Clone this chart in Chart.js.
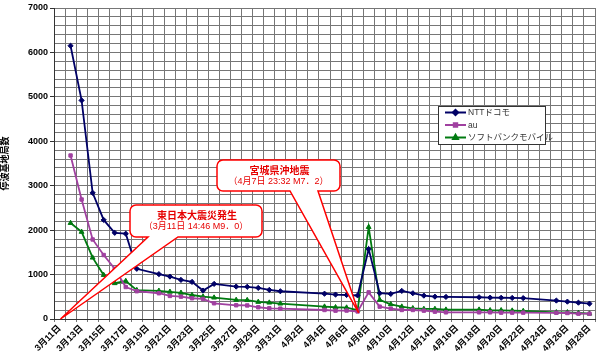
<!DOCTYPE html>
<html><head><meta charset="utf-8">
<script src="https://cdn.jsdelivr.net/npm/chart.js@4/dist/chart.umd.min.js"></script>
<style>html,body{margin:0;padding:0;background:#fff}#wrap{width:600px;height:361px;position:relative}</style>
</head><body><div id="wrap"><canvas id="c"></canvas></div>
<script>
// ---- data ----
const categories = ['3月11日','3月12日','3月13日','3月14日','3月15日','3月16日','3月17日','3月18日','3月19日','3月20日',
 '3月21日','3月22日','3月23日','3月24日','3月25日','3月26日','3月27日','3月28日','3月29日','3月30日','3月31日',
 '4月1日','4月2日','4月3日','4月4日','4月5日','4月6日','4月7日','4月8日','4月9日','4月10日',
 '4月11日','4月12日','4月13日','4月14日','4月15日','4月16日','4月17日','4月18日','4月19日','4月20日',
 '4月21日','4月22日','4月23日','4月24日','4月25日','4月26日','4月27日','4月28日'];
const seriesNames = ['NTTドコモ','au','ソフトバンクモバイル'];
const docomo = [null,6150,4920,2840,2230,1940,1920,1130,null,1010,
 955,880,835,640,790,null,730,725,700,655,625,
 null,null,null,570,550,540,530,1573,580,564,
 632,580,526,503,497,null,null,490,481,478,
 474,470,null,null,415,391,368,346];
const au = [null,3680,2690,1790,1440,1130,720,625,null,580,
 519,503,467,451,354,null,309,305,264,241,233,
 null,null,null,203,188,190,170,600,278,233,
 203,203,188,165,150,null,null,150,150,143,
 143,143,null,null,140,135,120,120];
const softbank = [null,2160,1960,1380,990,805,855,650,null,635,
 612,590,540,503,481,null,429,425,384,368,346,
 null,null,null,278,264,256,200,2070,429,331,
 278,241,226,226,210,null,null,210,196,196,
 188,180,null,null,150,150,135,120];
const yTickValues = [0,1000,2000,3000,4000,5000,6000,7000];
const yTitle = '停波基地局数';
const calloutTexts = [
  {title:'東日本大震災発生', sub:'（3月11日 14:46 M9．0）', tipCategory:'3月11日', tipValue:0},
  {title:'宮城県沖地震', sub:'（4月7日 23:32 M7．2）', tipCategory:'4月7日', tipValue:140}
];

// ---- styles ----
const FONT = '"Liberation Sans","Noto Sans CJK JP",sans-serif';
const colors = ['#000066','#a040a0','#007a10'];
const pointStyles = ['rectRot','rect','triangle'];
const pointRadii = [2.6,2.4,2.8];
const calloutBoxes = [
  {x:130,y:205,w:132,h:32,baseL:148,baseR:178},
  {x:217,y:160,w:123,h:31,baseL:290,baseR:318}
];
const legendBox = {x:438,y:106,w:107,h:38};

const series = [docomo, au, softbank];

function calloutPath(ctx,b,tip,r){
  ctx.beginPath();
  ctx.moveTo(b.x+r,b.y);
  ctx.lineTo(b.x+b.w-r,b.y);
  ctx.arcTo(b.x+b.w,b.y,b.x+b.w,b.y+r,r);
  ctx.lineTo(b.x+b.w,b.y+b.h-r);
  ctx.arcTo(b.x+b.w,b.y+b.h,b.x+b.w-r,b.y+b.h,r);
  ctx.lineTo(b.baseR,b.y+b.h);
  ctx.lineTo(tip.x,tip.y);
  ctx.lineTo(b.baseL,b.y+b.h);
  ctx.lineTo(b.x+r,b.y+b.h);
  ctx.arcTo(b.x,b.y+b.h,b.x,b.y+b.h-r,r);
  ctx.lineTo(b.x,b.y+r);
  ctx.arcTo(b.x,b.y,b.x+r,b.y,r);
  ctx.closePath();
}

const overlay = {
  id:'overlay',
  afterDatasetsDraw(chart){
    const ctx = chart.ctx, xs = chart.scales.x, ys = chart.scales.y;
    ctx.save();
    calloutTexts.forEach((c,i)=>{
      const b = calloutBoxes[i];
      const tip = {x: xs.getPixelForValue(categories.indexOf(c.tipCategory))+1, y: ys.getPixelForValue(c.tipValue)};
      calloutPath(ctx,b,tip,6);
      ctx.fillStyle='#fff'; ctx.fill();
      ctx.strokeStyle='#ff0000'; ctx.lineWidth=1.5; ctx.lineJoin='miter'; ctx.stroke();
      ctx.fillStyle='#e60000'; ctx.textAlign='center'; ctx.textBaseline='middle';
      ctx.font='bold 10px '+FONT;
      ctx.fillText(c.title, b.x+b.w/2+1, b.y+11);
      ctx.font='9px '+FONT;
      ctx.fillText(c.sub, b.x+b.w/2, b.y+22);
    });
    // legend
    const L = legendBox;
    ctx.fillStyle='#fff'; ctx.fillRect(L.x,L.y,L.w,L.h);
    ctx.strokeStyle='#333'; ctx.lineWidth=1; ctx.strokeRect(L.x+0.5,L.y+0.5,L.w,L.h);
    chart.data.datasets.forEach((ds,i)=>{
      const y = L.y+6.5+i*12.5, x0 = L.x+7, x1 = L.x+28;
      ctx.strokeStyle=ds.borderColor; ctx.lineWidth=2;
      ctx.beginPath(); ctx.moveTo(x0,y); ctx.lineTo(x1,y); ctx.stroke();
      ctx.fillStyle=ds.borderColor;
      Chart.helpers.drawPoint(ctx,{pointStyle:ds.pointStyle,radius:ds.pointRadius,borderWidth:1},(x0+x1)/2,y);
      ctx.fillStyle='#333'; ctx.textAlign='left'; ctx.textBaseline='middle';
      ctx.font='8.5px '+FONT;
      ctx.fillText(ds.label, x1+2, y+0.5);
    });
    ctx.restore();
  }
};

Chart.defaults.font.family = FONT;
Chart.defaults.color = '#000';

new Chart(document.getElementById('c'), {
  type:'line',
  data:{
    labels: categories,
    datasets: series.map((d,i)=>({
      label: seriesNames[i], data: d,
      borderColor: colors[i], backgroundColor: colors[i],
      pointStyle: pointStyles[i], pointRadius: pointRadii[i],
      pointBorderColor: colors[i], pointBackgroundColor: colors[i], pointBorderWidth:1,
      borderWidth: 1.8, tension: 0, spanGaps: true
    }))
  },
  options:{
    responsive:true, maintainAspectRatio:false, animation:false,
    layout:{padding:{top:8,right:5,left:0,bottom:0}},
    plugins:{legend:{display:false}, tooltip:{enabled:false}},
    scales:{
      x:{
        offset:true,
        grid:{offset:true, color:'#767676', lineWidth:1, tickLength:3, drawTicks:true},
        border:{color:'#333'},
        ticks:{autoSkip:false, maxRotation:45, minRotation:45, padding:1,
          font:{size:9, weight:'bold'},
          callback:(v,i)=> i%2===0 ? categories[i] : ''},
        afterFit:s=>{s.height=42;}
      },
      y:{
        min:0, max:7000,
        grid:{color:'#767676', lineWidth:1, tickLength:4,
          tickColor:c=> yTickValues.includes(c.tick && c.tick.value) ? '#333' : 'rgba(0,0,0,0)'},
        border:{color:'#333'},
        ticks:{stepSize:200, autoSkip:false, padding:2, font:{size:9, weight:'bold'},
          callback:v=> yTickValues.includes(v) ? String(v) : ''},
        title:{display:true, text:yTitle, font:{size:9, weight:'bold'}, padding:{top:0,bottom:4}},
        afterFit:s=>{s.width=54;}
      }
    }
  },
  plugins:[overlay]
});
</script></body></html>
